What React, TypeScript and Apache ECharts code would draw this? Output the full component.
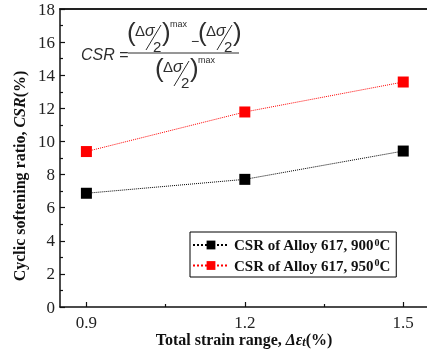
import React, { useEffect, useRef } from "react";
import * as echarts from "echarts";

const strainRange = [0.9, 1.2, 1.5];
const csr900 = [6.87, 7.71, 9.42];
const csr950 = [9.39, 11.78, 13.59];
const seriesNames = ["CSR of Alloy 617, 900⁰C", "CSR of Alloy 617, 950⁰C"];
const xMajorTicks = [0.9, 1.2, 1.5];
const xMinorTicks = [1.05, 1.35];

const SERIF = "Liberation Serif";
const SANS = "Liberation Sans";
const FC = "#2e2e2e";

function sigmaHalf(ox: number, oy: number, sup: boolean): any[] {
  const els: any[] = [
    { type: "text", x: ox, y: oy + 11, style: { text: "(", font: `26px ${SANS}`, fill: FC, verticalAlign: "middle" } },
    {
      type: "text", x: ox + 8, y: oy + 9,
      style: {
        text: "{d|Δ}{s|σ}", verticalAlign: "middle", fill: FC,
        rich: {
          d: { font: `15px ${SANS}`, fill: FC },
          s: { font: `italic 16px ${SANS}`, fill: FC },
        },
      },
    },
    { type: "line", shape: { x1: ox + 19, y1: oy + 29, x2: ox + 34, y2: oy + 4 }, style: { stroke: FC, lineWidth: 1 } },
    { type: "text", x: ox + 26, y: oy + 25, style: { text: "2", font: `15px ${SANS}`, fill: FC, verticalAlign: "middle" } },
    { type: "text", x: ox + 35, y: oy + 11, style: { text: ")", font: `26px ${SANS}`, fill: FC, verticalAlign: "middle" } },
  ];
  if (sup) {
    els.push({ type: "text", x: ox + 43, y: oy + 3, style: { text: "max", font: `9px ${SANS}`, fill: FC, verticalAlign: "middle" } });
  }
  return els;
}

export default function App() {
  const ref = useRef<HTMLDivElement>(null);
  useEffect(() => {
    if (!ref.current) return;
    const chart = echarts.init(ref.current, null, { renderer: "svg" });
    const mk = (vals: number[]) => strainRange.map((x, i) => [x, vals[i]]);
    const formula: any[] = [
      {
        type: "text", x: 81, y: 54,
        style: {
          text: "{i|CSR} =", verticalAlign: "middle", fill: FC, font: `16px ${SANS}`,
          rich: { i: { font: `italic 16px ${SANS}`, fill: FC } },
        },
      },
      { type: "line", shape: { x1: 128, y1: 53, x2: 239, y2: 53 }, style: { stroke: FC, lineWidth: 1 } },
      ...sigmaHalf(127, 21, true),
      { type: "text", x: 191, y: 41, style: { text: "−", font: `14px ${SANS}`, fill: FC, verticalAlign: "middle" } },
      ...sigmaHalf(198, 21, false),
      ...sigmaHalf(155, 57, true),
    ];
    const tickRich = { n: { fontFamily: SERIF, fontSize: 17, fontWeight: "normal", color: "#222" } };
    chart.setOption({
      animation: false,
      textStyle: { fontFamily: SERIF },
      grid: { left: 60, right: 0, top: 9, bottom: 48, outerBoundsMode: "none" },
      xAxis: [
        {
          type: "value", min: 0.85, max: 1.545, position: "bottom",
          axisLine: { show: true, onZero: false, lineStyle: { color: "#111", width: 1.5 } },
          axisTick: { show: true, inside: true, length: 5, customValues: xMajorTicks, lineStyle: { color: "#111", width: 1.2 } },
          axisLabel: {
            customValues: xMajorTicks, formatter: (v: number) => `{n|${v.toFixed(1)}}`,
            fontFamily: SERIF, fontSize: 17, color: "#222", rich: tickRich, margin: 7,
          },
          splitLine: { show: false },
        },
        {
          type: "value", min: 0.85, max: 1.545, position: "top",
          axisLine: { show: true, onZero: false, lineStyle: { color: "#222", width: 2 } },
          axisTick: { show: false }, axisLabel: { show: false }, splitLine: { show: false },
        },
        {
          type: "value", min: 0.85, max: 1.545, position: "bottom",
          axisLine: { show: false, onZero: false },
          axisTick: { show: true, inside: true, length: 3, customValues: xMinorTicks, lineStyle: { color: "#111", width: 1.2 } },
          axisLabel: { show: false }, splitLine: { show: false },
        },
      ],
      yAxis: {
        type: "value", min: 0, max: 18, interval: 2,
        axisLine: { show: true, lineStyle: { color: "#111", width: 1.5 } },
        axisTick: { show: true, inside: true, length: 5, lineStyle: { color: "#111", width: 1.2 } },
        minorTick: { show: true, splitNumber: 2, length: 3, lineStyle: { color: "#111", width: 1.2 } },
        axisLabel: {
          formatter: (v: number) => `{n|${v}}`,
          fontFamily: SERIF, fontSize: 17, color: "#222", rich: tickRich, margin: 5,
        },
        splitLine: { show: false },
      },
      legend: {
        orient: "vertical", left: 190, top: 232,
        itemWidth: 36, itemHeight: 11, itemGap: 5,
        padding: [5, 6, 4, 2],
        borderColor: "#000", borderWidth: 1,
        data: seriesNames,
        formatter: (name: string) => name.replace("⁰C", "{sup|0}C"),
        textStyle: {
          fontFamily: SERIF, fontSize: 15, fontWeight: "bold", color: "#111",
          rich: {
            sup: { fontFamily: SERIF, fontSize: 10, fontWeight: "bold", color: "#111", verticalAlign: "top", lineHeight: 16 },
          },
        },
      },
      series: [
        {
          name: seriesNames[0], type: "line", data: mk(csr900),
          symbol: "rect", symbolSize: 11,
          itemStyle: { color: "#000" },
          lineStyle: { color: "#000", width: 1, type: "dotted" },
        },
        {
          name: seriesNames[1], type: "line", data: mk(csr950),
          symbol: "rect", symbolSize: 11,
          itemStyle: { color: "#ff0000" },
          lineStyle: { color: "#ff0000", width: 1, type: "dotted" },
        },
      ],
      graphic: [
        ...formula,
        {
          type: "text", x: 19, y: 176, rotation: Math.PI / 2,
          style: {
            text: "Cyclic softening ratio, {i|CSR}(%)", align: "center", verticalAlign: "middle",
            font: `bold 16px ${SERIF}`, fill: "#111",
            rich: { i: { font: `italic bold 16px ${SERIF}`, fill: "#111" } },
          },
        },
        {
          type: "text", x: 244, y: 339,
          style: {
            text: "Total strain range, {i|Δε}{t|t}(%)", align: "center", verticalAlign: "middle",
            font: `bold 16px ${SERIF}`, fill: "#111",
            rich: {
              i: { font: `italic bold 16px ${SERIF}`, fill: "#111" },
              t: { font: `italic bold 12px ${SERIF}`, fill: "#111", verticalAlign: "bottom", padding: [6, 0, 0, 0] },
            },
          },
        },
      ],
    });
    return () => chart.dispose();
  }, []);
  return <div ref={ref} style={{ position: "fixed", left: 0, top: 0, width: 427, height: 355 }} />;
}
